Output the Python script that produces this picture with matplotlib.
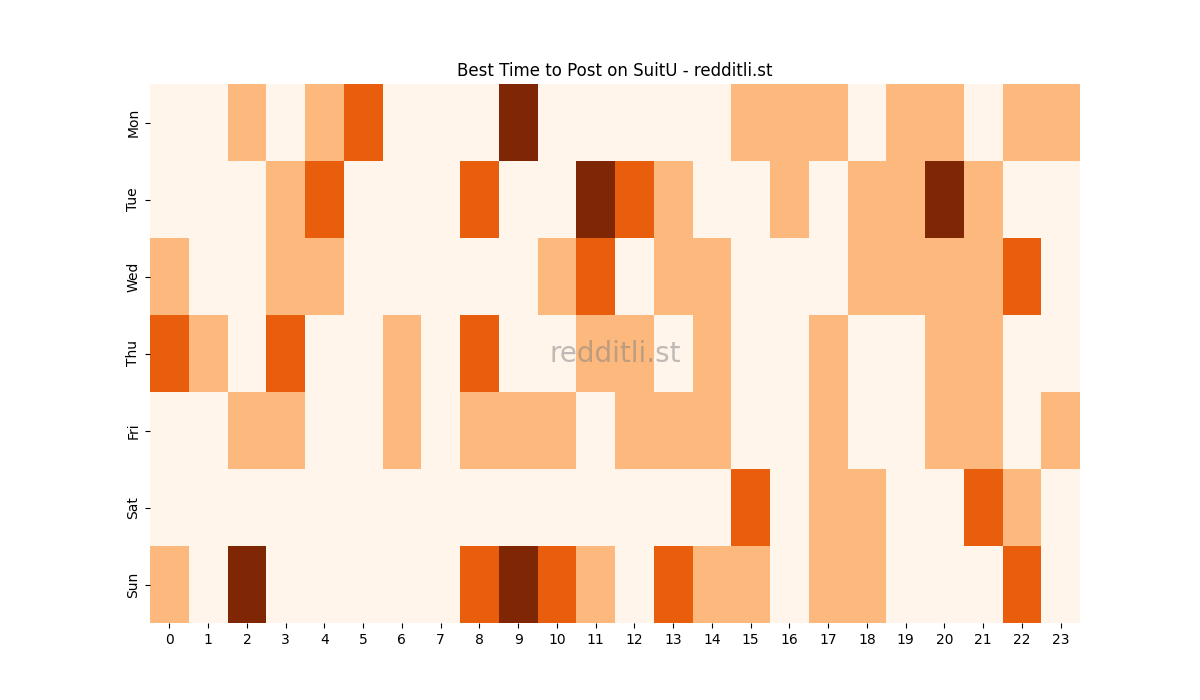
import matplotlib
matplotlib.use("Agg")
import matplotlib.pyplot as plt
import seaborn as sns
import numpy as np

days = ["Mon", "Tue", "Wed", "Thu", "Fri", "Sat", "Sun"]
hours = list(range(24))

mon = [0, 0, 1, 0, 1, 2, 0, 0, 0, 3, 0, 0, 0, 0, 0, 1, 1, 1, 0, 1, 1, 0, 1, 1]
tue = [0, 0, 0, 1, 2, 0, 0, 0, 2, 0, 0, 3, 2, 1, 0, 0, 1, 0, 1, 1, 3, 1, 0, 0]
wed = [1, 0, 0, 1, 1, 0, 0, 0, 0, 0, 1, 2, 0, 1, 1, 0, 0, 0, 1, 1, 1, 1, 2, 0]
thu = [2, 1, 0, 2, 0, 0, 1, 0, 2, 0, 0, 1, 1, 0, 1, 0, 0, 1, 0, 0, 1, 1, 0, 0]
fri = [0, 0, 1, 1, 0, 0, 1, 0, 1, 1, 1, 0, 1, 1, 1, 0, 0, 1, 0, 0, 1, 1, 0, 1]
sat = [0, 0, 0, 0, 0, 0, 0, 0, 0, 0, 0, 0, 0, 0, 0, 2, 0, 1, 1, 0, 0, 2, 1, 0]
sun = [1, 0, 3, 0, 0, 0, 0, 0, 2, 3, 2, 1, 0, 2, 1, 1, 0, 1, 1, 0, 0, 0, 2, 0]

data = np.array([mon, tue, wed, thu, fri, sat, sun])

fig, ax = plt.subplots(figsize=(12, 7), dpi=100)
sns.heatmap(data, cmap="Oranges", cbar=False, xticklabels=hours, yticklabels=days, ax=ax)
ax.set_title("Best Time to Post on SuitU - redditli.st")
ax.text(0.5, 0.5, "redditli.st", transform=ax.transAxes, ha="center", va="center",
        fontsize=20, color="gray", alpha=0.5)
plt.savefig("out.png")
